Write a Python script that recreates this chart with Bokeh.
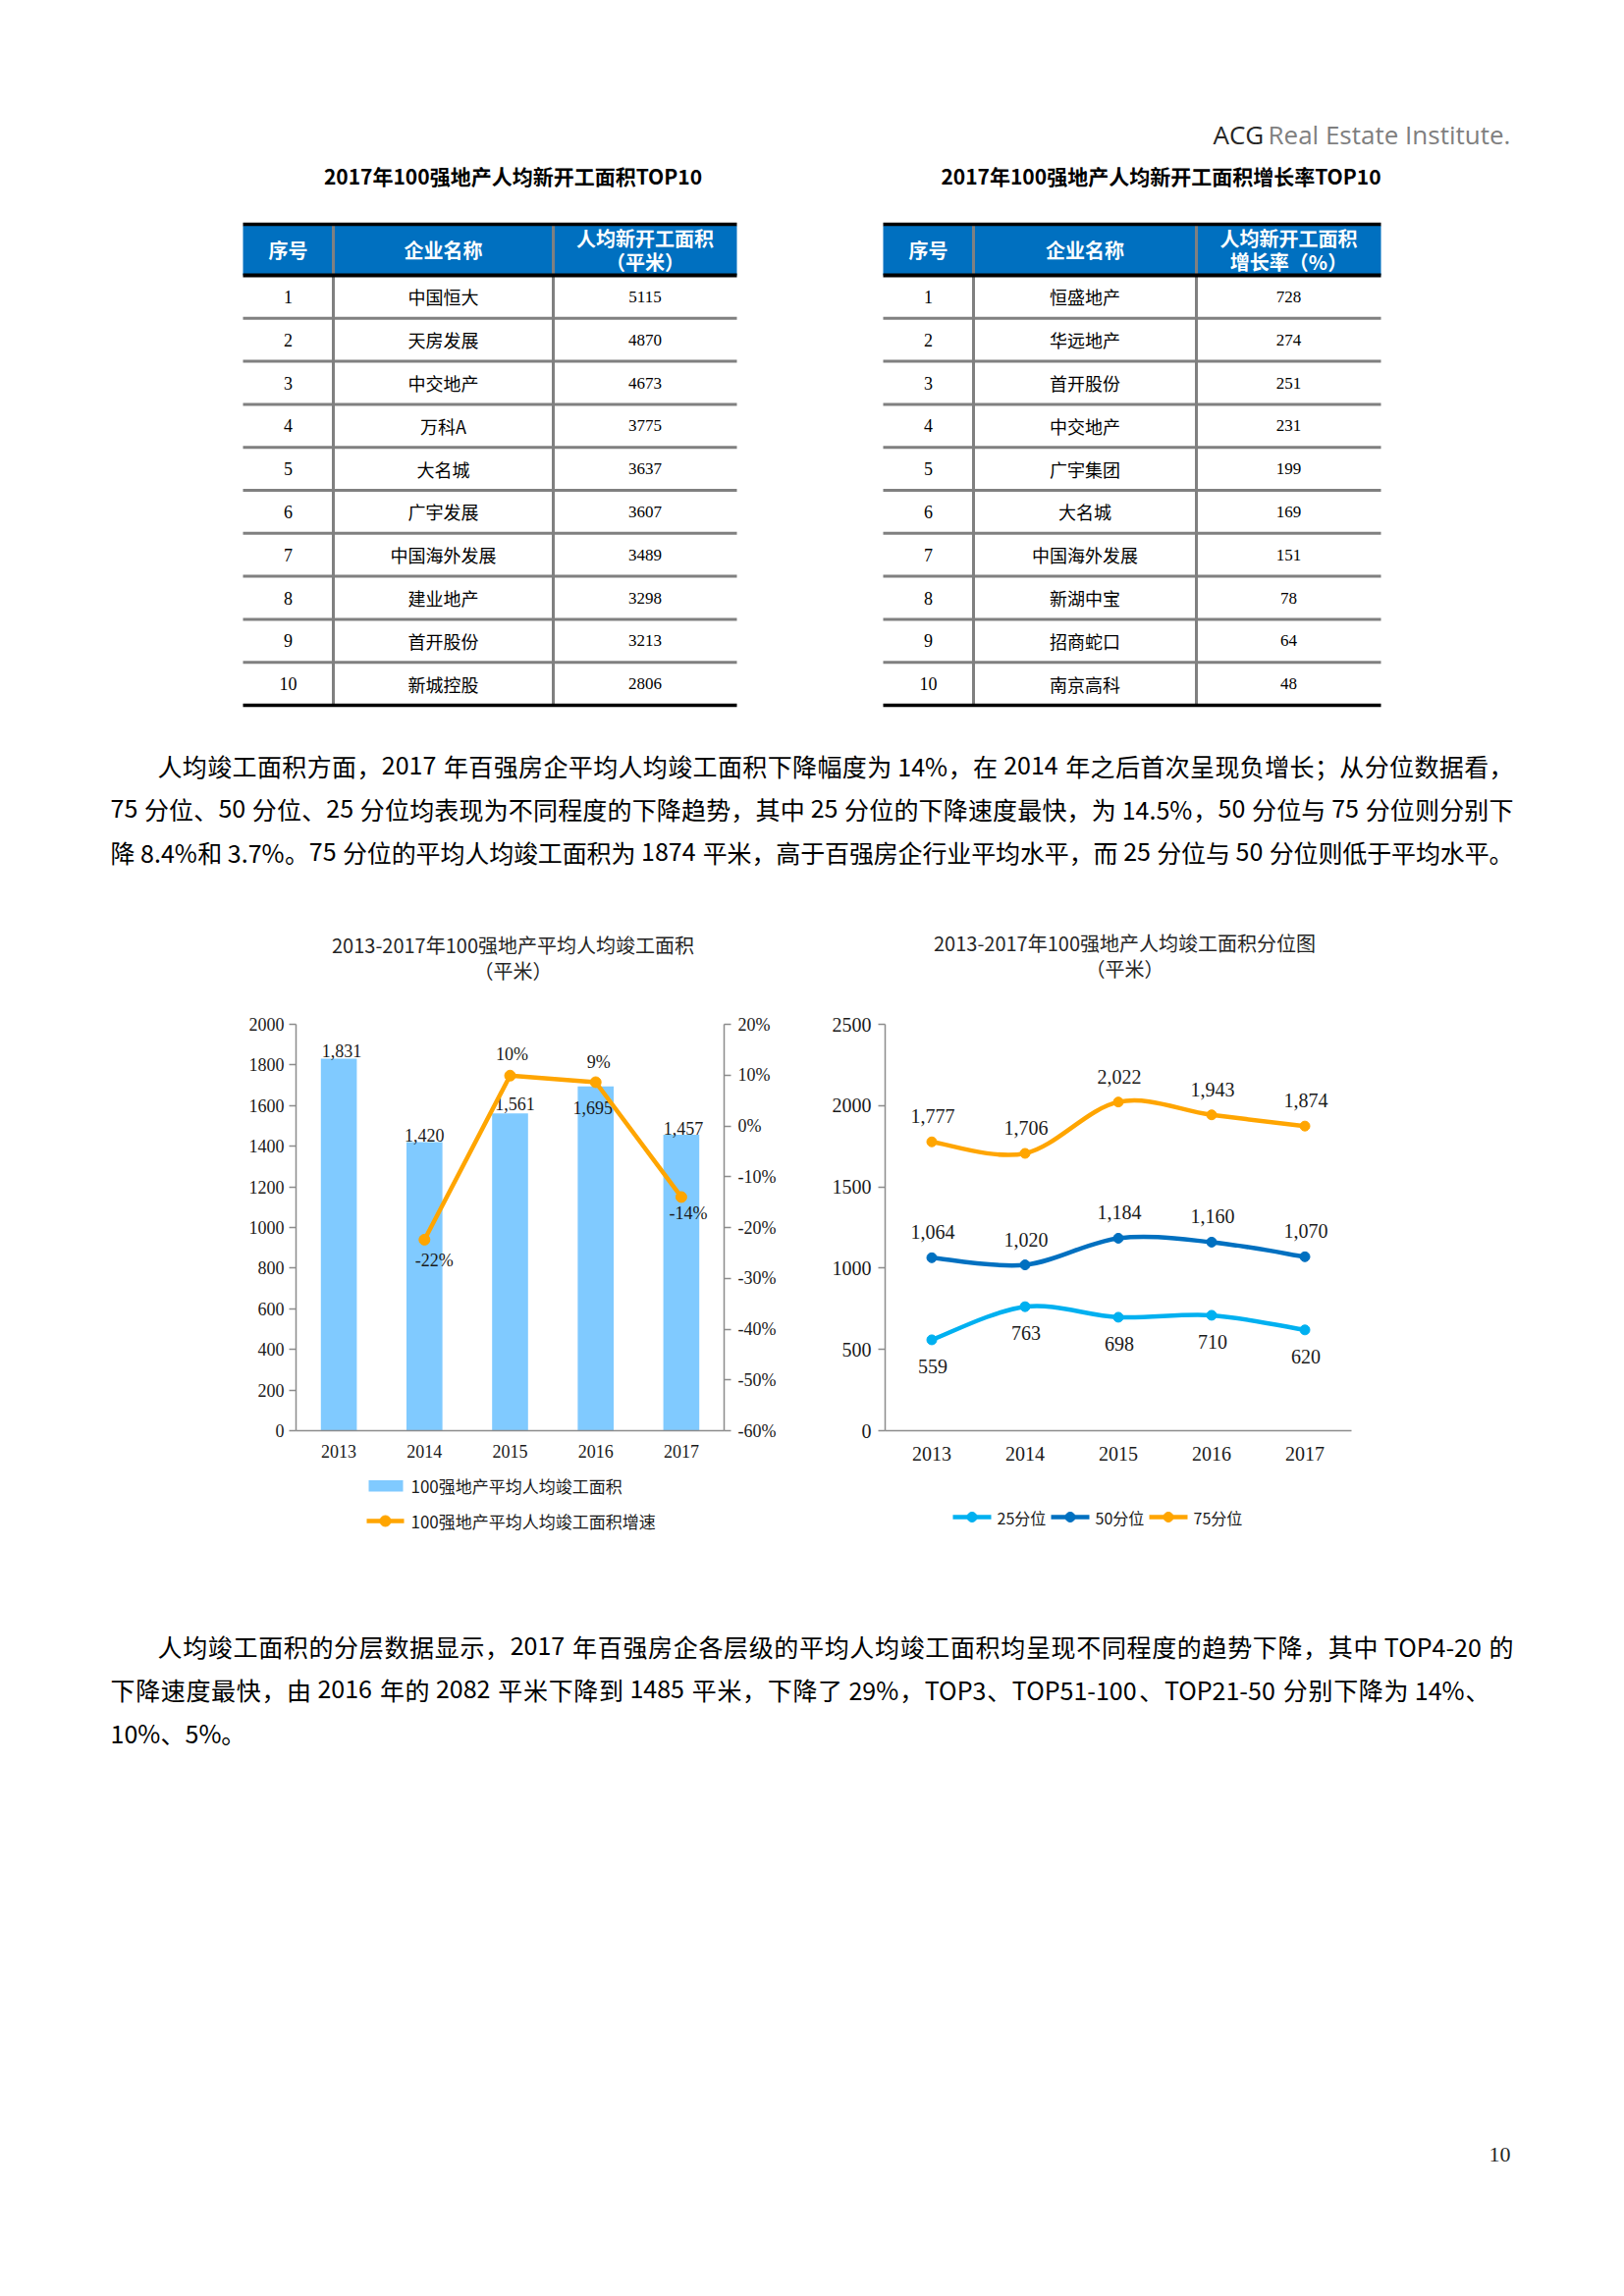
from bokeh.plotting import figure
from bokeh.models import Range1d, LinearAxis, FixedTicker, NumeralTickFormatter
from bokeh.layouts import column, row
from bokeh.embed import file_html
from bokeh.resources import INLINE
from bokeh.core.properties import value

# ------------------------------------------------------------------ data
years = ["2013", "2014", "2015", "2016", "2017"]
avg_area = [1831, 1420, 1561, 1695, 1457]
avg_growth = [None, -0.224, 0.099, 0.086, -0.140]
growth_labels = ["", "-22%", "10%", "9%", "-14%"]
p25 = [559, 763, 698, 710, 620]
p50 = [1064, 1020, 1184, 1160, 1070]
p75 = [1777, 1706, 2022, 1943, 1874]

left_ranks = [str(i) for i in range(1, 11)]
left_names = ["中国恒大", "天房发展", "中交地产", "万科A", "大名城", "广宇发展",
              "中国海外发展", "建业地产", "首开股份", "新城控股"]
left_vals = [5115, 4870, 4673, 3775, 3637, 3607, 3489, 3298, 3213, 2806]
right_names = ["恒盛地产", "华远地产", "首开股份", "中交地产", "广宇集团", "大名城",
               "中国海外发展", "新湖中宝", "招商蛇口", "南京高科"]
right_vals = [728, 274, 251, 231, 199, 169, 151, 78, 64, 48]

left_title = "2017年100强地产人均新开工面积TOP10"
right_title = "2017年100强地产人均新开工面积增长率TOP10"
left_head = ["序号", "企业名称", "人均新开工面积", "（平米）"]
right_head = ["序号", "企业名称", "人均新开工面积", "增长率（%）"]

chart1_title = ["2013-2017年100强地产平均人均竣工面积", "（平米）"]
chart2_title = ["2013-2017年100强地产人均竣工面积分位图", "（平米）"]
legend1 = ["100强地产平均人均竣工面积", "100强地产平均人均竣工面积增速"]
legend2 = ["25分位", "50分位", "75分位"]

para1 = ["人均竣工面积方面，2017 年百强房企平均人均竣工面积下降幅度为 14%，在 2014 年之后首次呈现负增长；从分位数据看，",
         "75 分位、50 分位、25 分位均表现为不同程度的下降趋势，其中 25 分位的下降速度最快，为 14.5%，50 分位与 75 分位则分别下",
         "降 8.4%和 3.7%。75 分位的平均人均竣工面积为 1874 平米，高于百强房企行业平均水平，而 25 分位与 50 分位则低于平均水平。"]
para2 = ["人均竣工面积的分层数据显示，2017 年百强房企各层级的平均人均竣工面积均呈现不同程度的趋势下降，其中 TOP4-20 的",
         "下降速度最快，由 2016 年的 2082 平米下降到 1485 平米，下降了 29%，TOP3、TOP51-100、TOP21-50 分别下降为 14%、",
         "10%、5%。"]
page_no = "10"

# ------------------------------------------------------------------ styles
SANS = "Noto Sans CJK SC"
SERIF = "Liberation Serif"
BLUE_HEAD = "#0070C0"
BAR = "#80CAFF"
ORANGE = "#FFA500"
C25 = "#00B0F0"
C50 = "#0070C0"
GRID_GRAY = "#808080"
AX_GRAY = "#8c8c8c"
TXT = "#1a1a1a"


def canvas(y0, y1, x0=8, x1=1646):
    p = figure(width=x1 - x0, height=y1 - y0, x_range=Range1d(x0, x1),
               y_range=Range1d(y1, y0), output_backend="svg", toolbar_location=None,
               x_axis_location=None, y_axis_location=None, min_border=0,
               outline_line_color=None)
    p.grid.visible = False
    return p


def txt(p, x, y, s, size, font=SANS, color="#000000", align="center",
        baseline="middle", style="normal"):
    p.text(x=[x], y=[y], text=[s], text_font=value(font), text_font_size=size,
           text_color=color, text_align=align, text_baseline=baseline,
           text_font_style=style)


# approximate advance widths (em) for the Latin glyphs of the CJK font
LAT_W = {"%": 0.90, ".": 0.29, "-": 0.36, "T": 0.55, "O": 0.75, "P": 0.64, "A": 0.62}
SPACE_W = 0.23


def is_wide(ch):
    return ord(ch) >= 0x2E80


def tokenize(line):
    toks = []
    buf, buf_sp, pend = "", 0.0, 0.0
    for ch in line:
        if ch == " ":
            if buf:
                toks.append([buf, sum(LAT_W.get(c, 0.57) for c in buf), buf_sp])
                buf = ""
            pend += SPACE_W
        elif is_wide(ch):
            if buf:
                toks.append([buf, sum(LAT_W.get(c, 0.57) for c in buf), buf_sp])
                buf = ""
            toks.append([ch, 1.0, pend])
            pend = 0.0
        else:
            if not buf:
                buf_sp, pend = pend, 0.0
            buf += ch
    if buf:
        toks.append([buf, sum(LAT_W.get(c, 0.57) for c in buf), buf_sp])
    return toks


def para_line(p, x_start, x_end, y, line, fs, justify=True):
    toks = tokenize(line)
    natural = sum((w + sp) * fs for _, w, sp in toks)
    gap = (x_end - x_start - natural) / (len(toks) - 1) if justify and len(toks) > 1 else 0
    xs_, x = [], x_start
    for i, (s, w, sp) in enumerate(toks):
        if i > 0:
            x += gap
        x += sp * fs
        xs_.append(x)
        x += w * fs
    p.text(x=xs_, y=[y] * len(toks), text=[t[0] for t in toks], text_font=value(SANS),
           text_font_size=f"{fs}px", text_color="#000000", text_align="left",
           text_baseline="middle")


# ------------------------------------------------------------------ top part
top = canvas(8, 1010)
txt(top, 1243, 144, "ACG", "26px", font="Open Sans", color="#262626", align="left")
txt(top, 1299, 144, "Real Estate Institute.", "26px", font="Open Sans",
    color="#7f7f7f", align="left")


def draw_table(p, x0, xa, xb, x1, head, ranks, names, vals, title, title_x):
    top_y, hb, rh = 236, 288, 43.8
    n = len(names)
    bottom = hb + rh * n
    txt(p, title_x, 186, title, "21px", style="bold")
    p.quad(left=[x0], right=[x1], top=[top_y + 1.5], bottom=[hb], fill_color=BLUE_HEAD,
           line_color=None)
    p.segment(x0=[xa, xb], y0=[top_y + 1.5] * 2, x1=[xa, xb], y1=[bottom, bottom],
              line_color=GRID_GRAY, line_width=3)
    ys = [hb + rh * k for k in range(1, n)]
    p.segment(x0=[x0] * len(ys), y0=ys, x1=[x1] * len(ys), y1=ys,
              line_color=GRID_GRAY, line_width=3)
    p.segment(x0=[x0] * 3, y0=[top_y, hb, bottom], x1=[x1] * 3,
              y1=[top_y, hb, bottom], line_color="black", line_width=[3.5, 4, 3.5])
    c1, c2, c3 = (x0 + xa) / 2, (xa + xb) / 2, (xb + x1) / 2
    hm = (top_y + hb) / 2
    txt(p, c1, hm, head[0], "20px", color="white", style="bold")
    txt(p, c2, hm, head[1], "20px", color="white", style="bold")
    txt(p, c3, hm - 12, head[2], "20px", color="white", style="bold")
    txt(p, c3, hm + 12, head[3], "20px", color="white", style="bold")
    cy = [hb + rh * (k + 0.5) for k in range(n)]
    p.text(x=[c1] * n, y=cy, text=ranks, text_font=value(SERIF), text_font_size="18px",
           text_align="center", text_baseline="middle", text_color="black")
    p.text(x=[c2] * n, y=cy, text=names, text_font=value(SANS), text_font_size="18px",
           text_align="center", text_baseline="middle", text_color="black")
    p.text(x=[c3] * n, y=cy, text=[str(v) for v in vals], text_font=value(SERIF),
           text_font_size="17px", text_align="center", text_baseline="middle",
           text_color="black")


draw_table(top, 255, 347, 571, 758, left_head, left_ranks, left_names, left_vals,
           left_title, 530)
draw_table(top, 907, 999, 1226, 1414, right_head, left_ranks, right_names, right_vals,
           right_title, 1190)

P1_END = [1549, 1549, 1549]
for i, line in enumerate(para1):
    para_line(top, 168 if i == 0 else 120, P1_END[i], 787 + 44 * i, line, 25)

txt(top, 530, 970, chart1_title[0], "20px", color="#262626")
txt(top, 530, 996, chart1_title[1], "20px", color="#262626")
txt(top, 1153, 968, chart2_title[0], "20px", color="#262626")
txt(top, 1153, 994, chart2_title[1], "20px", color="#262626")


# ------------------------------------------------------------------ charts
def style_axis(ax, size, standoff, ticks=True):
    ax.axis_line_color = AX_GRAY
    ax.axis_line_width = 1.5
    ax.minor_tick_line_color = None
    ax.major_tick_in = 0
    ax.major_tick_out = 7 if ticks else 0
    ax.major_tick_line_color = AX_GRAY if ticks else None
    ax.major_tick_line_width = 1.5
    ax.major_label_text_font = SERIF
    ax.major_label_text_font_size = size
    ax.major_label_text_color = TXT
    ax.major_label_standoff = standoff


xs = list(range(len(years)))
year_labels = {i: y for i, y in enumerate(years)}

# left chart
lc = figure(width=820, height=500, x_range=Range1d(-0.5, 4.5), y_range=Range1d(0, 2000),
            output_backend="svg", toolbar_location=None, min_border_left=301,
            min_border_right=83, min_border_top=40, min_border_bottom=45,
            outline_line_color=None)
lc.extra_y_ranges = {"pct": Range1d(-0.6, 0.2)}
lc.grid.visible = False
lc.xaxis.ticker = FixedTicker(ticks=xs)
lc.xaxis.major_label_overrides = year_labels
lc.yaxis.ticker = FixedTicker(ticks=list(range(0, 2001, 200)))
rax = LinearAxis(y_range_name="pct",
                 ticker=FixedTicker(ticks=[round(t / 10, 1) for t in range(-6, 3)]),
                 formatter=NumeralTickFormatter(format="0%"))
lc.add_layout(rax, "right")
style_axis(lc.xaxis[0], "18px", 14, ticks=False)
style_axis(lc.yaxis[0], "18px", 5)
style_axis(rax, "18px", 7)

lc.vbar(x=xs, top=avg_area, width=0.42, fill_color=BAR, line_color=None)
bar_dx = [3, 0, 5, -3, 2]
bar_dy = [-8, -7, -10, 22, -6]
lc.text(x=xs, y=avg_area, text=[f"{v:,}" for v in avg_area], x_offset=bar_dx,
        y_offset=bar_dy, text_font=value(SERIF), text_font_size="18px",
        text_align="center", text_baseline="middle", text_color=TXT)
gx = xs[1:]
gy = avg_growth[1:]
lc.line(x=gx, y=gy, y_range_name="pct", line_color=ORANGE, line_width=4.5)
lc.scatter(x=gx, y=gy, y_range_name="pct", size=11, fill_color=ORANGE,
           line_color=ORANGE)
g_dx = [10, 2, 3, 7]
g_dy = [21, -22, -20, 17]
lc.text(x=gx, y=gy, y_range_name="pct", text=growth_labels[1:], x_offset=g_dx,
        y_offset=g_dy, text_font=value(SERIF), text_font_size="18px",
        text_align="center", text_baseline="middle", text_color=TXT)

# right chart
rc = figure(width=818, height=500, x_range=Range1d(-0.5, 4.5), y_range=Range1d(0, 2500),
            output_backend="svg", toolbar_location=None, min_border_left=81,
            min_border_right=262, min_border_top=41, min_border_bottom=44,
            outline_line_color=None)
rc.grid.visible = False
rc.xaxis.ticker = FixedTicker(ticks=xs)
rc.xaxis.major_label_overrides = year_labels
rc.yaxis.ticker = FixedTicker(ticks=list(range(0, 2501, 500)))
style_axis(rc.xaxis[0], "20px", 16, ticks=False)
style_axis(rc.yaxis[0], "20px", 7)


def smooth(xv, yv):
    n = len(xv)
    d = dict(x0=[], y0=[], x1=[], y1=[], cx0=[], cy0=[], cx1=[], cy1=[])
    for i in range(n - 1):
        a = i - 1 if i > 0 else i
        b = i + 2 if i + 2 < n else i + 1
        d["x0"].append(xv[i]); d["y0"].append(yv[i])
        d["x1"].append(xv[i + 1]); d["y1"].append(yv[i + 1])
        d["cx0"].append(xv[i] + (xv[i + 1] - xv[a]) / 6)
        d["cy0"].append(yv[i] + (yv[i + 1] - yv[a]) / 6)
        d["cx1"].append(xv[i + 1] - (xv[b] - xv[i]) / 6)
        d["cy1"].append(yv[i + 1] - (yv[b] - yv[i]) / 6)
    return d


series = [(p25, C25, 27), (p50, C50, -26), (p75, ORANGE, -26)]
for vals, col, dy in series:
    rc.bezier(**smooth(xs, vals), line_color=col, line_width=4.5, line_cap="round")
    rc.scatter(x=xs, y=vals, size=10, fill_color=col, line_color=col)
    rc.text(x=xs, y=vals, text=[f"{v:,}" for v in vals], x_offset=1, y_offset=dy,
            text_font=value(SERIF), text_font_size="20px", text_align="center",
            text_baseline="middle", text_color=TXT)

# ------------------------------------------------------------------ bottom part
bot = canvas(1510, 2331)
bot.quad(left=[383], right=[418], top=[1515.5], bottom=[1527], fill_color=BAR,
         line_color=None)
txt(bot, 426, 1521, legend1[0], "17px", color=TXT, align="left")
bot.segment(x0=[381], y0=[1557], x1=[419], y1=[1557], line_color=ORANGE, line_width=4.5)
bot.scatter(x=[400], y=[1557], size=11, fill_color=ORANGE, line_color=ORANGE)
txt(bot, 426, 1557, legend1[1], "17px", color=TXT, align="left")

leg_x = [978, 1078, 1178]
for k, (lab, col) in enumerate(zip(legend2, [C25, C50, ORANGE])):
    x0 = leg_x[k]
    bot.segment(x0=[x0], y0=[1553], x1=[x0 + 39], y1=[1553], line_color=col,
                line_width=4.5)
    bot.scatter(x=[x0 + 19.5], y=[1553], size=10, fill_color=col, line_color=col)
    txt(bot, x0 + 45, 1553, lab, "16px", color=TXT, align="left")

P2_END = [1549, 1525, None]
for i, line in enumerate(para2):
    end = P2_END[i]
    para_line(bot, 168 if i == 0 else 120, end if end else 1549, 1684 + 44 * i, line, 25,
              justify=end is not None)

txt(bot, 1535, 2202, page_no, "22px", font=SERIF, color="#262626")

layout = column(top, row(lc, rc), bot)
open("out.html", "w").write(file_html(layout, INLINE))
